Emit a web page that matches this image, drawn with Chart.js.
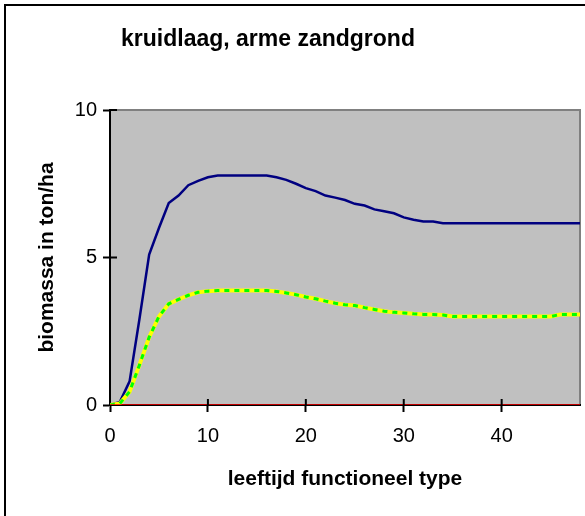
<!DOCTYPE html>
<html>
<head>
<meta charset="utf-8">
<script src="https://cdn.jsdelivr.net/npm/chart.js@4"></script>
<style>
  body { margin: 0; background: #fff; }
  .wrap { width: 585px; height: 516px; }
</style>
</head>
<body>
<div class="wrap"><canvas id="myChart"></canvas></div>
<script>
const ctx = document.getElementById("myChart").getContext("2d");

// leeftijd (jaar)
const ages = [
  0, 1, 2, 3, 4, 5, 6, 7, 8, 9, 10, 11, 12, 13, 14, 15, 16, 17, 18, 19, 20,
  21, 22, 23, 24, 25, 26, 27, 28, 29, 30, 31, 32, 33, 34, 35, 36, 37, 38, 39,
  40, 41, 42, 43, 44, 45, 46, 47, 48,
];

// donkerblauwe lijn
const biomassBlue = [
  0, 0.1, 0.8, 2.9, 5.1, 6.0, 6.85, 7.1, 7.45, 7.6, 7.72, 7.78, 7.78, 7.78,
  7.78, 7.78, 7.78, 7.72, 7.63, 7.5, 7.35, 7.25, 7.1, 7.03, 6.95, 6.82, 6.76,
  6.63, 6.57, 6.5, 6.36, 6.28, 6.22, 6.22, 6.16, 6.16, 6.16, 6.16, 6.16, 6.16,
  6.16, 6.16, 6.16, 6.16, 6.16, 6.16, 6.16, 6.16, 6.16,
];

// geel / groen gestippeld (zelfde waarden)
const biomassYellow = [
  0, 0.05, 0.45, 1.35, 2.3, 3.0, 3.43, 3.58, 3.72, 3.82, 3.86, 3.88, 3.88,
  3.88, 3.88, 3.88, 3.88, 3.85, 3.8, 3.74, 3.66, 3.6, 3.52, 3.45, 3.4, 3.37,
  3.3, 3.24, 3.18, 3.14, 3.12, 3.09, 3.07, 3.07, 3.05, 3.0, 3.0, 3.0, 3.0, 3.0,
  3.0, 3.0, 3.0, 3.0, 3.0, 3.0, 3.07, 3.07, 3.07,
];
const biomassGreen = biomassYellow.slice();

// rode lijn op nul
const biomassRed = ages.map(() => 0);

const xTicks = [0, 10, 20, 30, 40];
const yTicks = [0, 5, 10];

const toPoints = (vals) => vals.map((v, i) => ({ x: ages[i], y: v }));

const plotFrame = {
  id: "plotFrame",
  afterLayout(chart) {
    // titel staat niet midden boven de figuur
    chart.titleBlock.left = 5;
    chart.titleBlock.right = 531;
  },
  beforeDraw(chart) {
    const c = chart.ctx;
    const a = chart.chartArea;
    c.save();
    c.fillStyle = "#ffffff";
    c.fillRect(0, 0, chart.width, chart.height);
    c.strokeStyle = "#000000";
    c.lineWidth = 2;
    c.strokeRect(5, 5, 800, 800);
    c.fillStyle = "#C0C0C0";
    c.fillRect(a.left, a.top, a.right - a.left, a.bottom - a.top);
    c.strokeStyle = "#808080";
    c.lineWidth = 2;
    c.beginPath();
    c.moveTo(a.left, a.top);
    c.lineTo(a.right, a.top);
    c.lineTo(a.right, a.bottom);
    c.stroke();
    c.restore();
  },
  afterDraw(chart) {
    // binnenste helft van de tickstreepjes
    const c = chart.ctx;
    const a = chart.chartArea;
    const xs = chart.scales.x;
    const ys = chart.scales.y;
    c.save();
    c.strokeStyle = "#000000";
    c.lineWidth = 2;
    c.beginPath();
    xTicks.forEach((t) => {
      const px = xs.getPixelForValue(t);
      if (t === 0) return;
      c.moveTo(px, a.bottom);
      c.lineTo(px, a.bottom - 6);
    });
    yTicks.forEach((t) => {
      const py = ys.getPixelForValue(t);
      if (t === 0) return;
      c.moveTo(a.left, py);
      c.lineTo(a.left + 7, py);
    });
    c.stroke();
    c.restore();
  },
};

const obj = {
  type: "line",
  data: {
    datasets: [
      {
        label: "nul",
        data: toPoints(biomassRed),
        borderColor: "#FF0000",
        borderWidth: 1.5,
        pointRadius: 0,
      },
      {
        label: "groen",
        data: toPoints(biomassGreen),
        borderColor: "#00FF00",
        borderWidth: 3,
        borderDash: [5, 5],
        pointRadius: 0,
      },
      {
        label: "geel",
        data: toPoints(biomassYellow),
        borderColor: "#FFFF00",
        borderWidth: 4,
        pointRadius: 0,
      },
      {
        label: "blauw",
        data: toPoints(biomassBlue),
        borderColor: "#000080",
        borderWidth: 2.5,
        pointRadius: 0,
      },
    ],
  },
  options: {
    responsive: true,
    maintainAspectRatio: false,
    animation: false,
    events: [],
    layout: { padding: { left: 0, right: 5, top: 0, bottom: 0 } },
    plugins: {
      legend: { display: false },
      tooltip: { enabled: false },
      title: {
        display: true,
        text: "kruidlaag, arme zandgrond",
        color: "#000000",
        font: { family: "Liberation Sans", size: 23, weight: "bold", lineHeight: 1.2 },
        padding: { top: 25.5, bottom: 56.9 },
      },
    },
    scales: {
      x: {
        type: "linear",
        min: 0,
        max: 48,
        afterFit: (s) => { s.height = 111; },
        ticks: {
          stepSize: 10,
          includeBounds: false,
          padding: 12,
          color: "#000000",
          font: { family: "Liberation Sans", size: 20 },
        },
        grid: {
          display: true,
          drawOnChartArea: false,
          drawTicks: true,
          tickLength: 7,
          tickWidth: 2,
          tickColor: "#000000",
        },
        border: { display: true, color: "#000000", width: 2 },
        title: {
          display: true,
          text: "leeftijd functioneel type",
          color: "#000000",
          font: { family: "Liberation Sans", size: 21, weight: "bold", lineHeight: 1.2 },
          padding: { top: 0, bottom: 24.4 },
        },
      },
      y: {
        min: 0,
        max: 10,
        afterFit: (s) => { s.width = 110; },
        ticks: {
          stepSize: 5,
          padding: 6,
          color: "#000000",
          font: { family: "Liberation Sans", size: 20 },
        },
        grid: {
          display: true,
          drawOnChartArea: false,
          drawTicks: true,
          tickLength: 7,
          tickWidth: 2,
          tickColor: "#000000",
        },
        border: { display: true, color: "#000000", width: 2 },
        title: {
          display: true,
          text: "biomassa in ton/ha",
          color: "#000000",
          font: { family: "Liberation Sans", size: 21, weight: "bold", lineHeight: 1.2 },
          padding: { top: 34.4, bottom: 0 },
        },
      },
    },
  },
  plugins: [plotFrame],
};

let chart = new Chart(ctx, obj);
</script>
</body>
</html>
